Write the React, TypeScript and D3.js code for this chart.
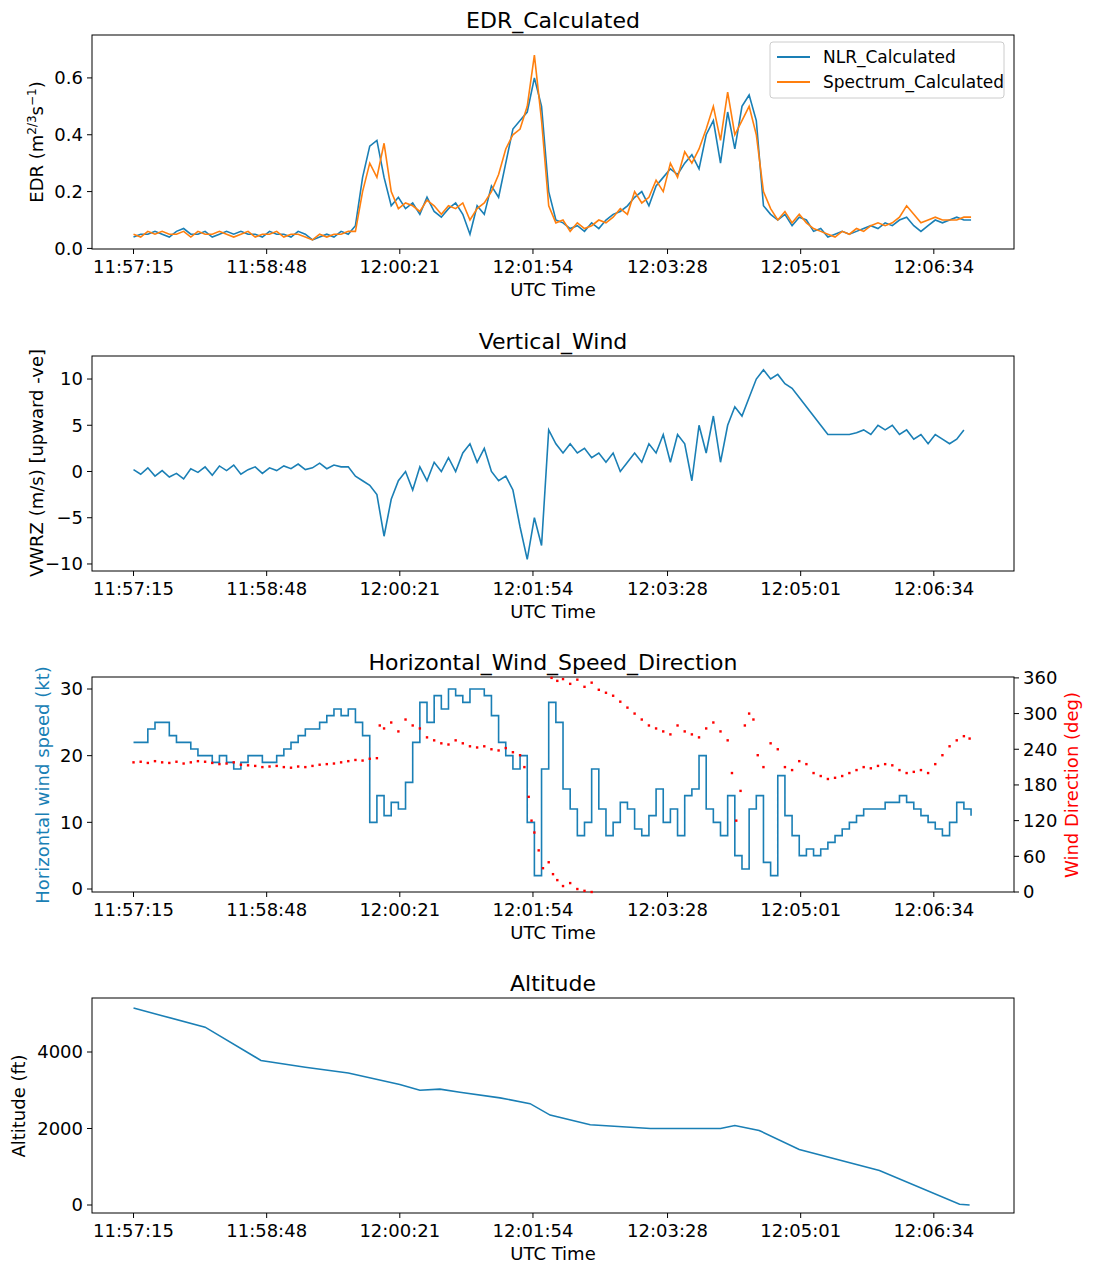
import * as d3 from "d3";

const STEP = 5; // seconds between samples, counted from 11:57:15
const TICK_SECONDS = [0, 93, 186, 279, 373, 466, 559];
const TICK_LABELS = ["11:57:15", "11:58:48", "12:00:21", "12:01:54", "12:03:28", "12:05:01", "12:06:34"];

const edrNlr = [0.04,0.05,0.05,0.06,0.05,0.04,0.06,0.07,0.05,0.05,0.06,0.04,0.05,0.06,0.05,0.06,0.05,0.05,0.04,0.06,0.05,0.05,0.04,0.06,0.05,0.03,0.04,0.05,0.04,0.06,0.05,
  0.08,0.25,0.36,0.38,0.25,0.15,0.18,0.14,0.16,0.12,0.18,0.13,0.11,0.14,0.16,0.12,0.05,0.15,0.12,0.22,0.18,0.3,0.42,0.45,0.48,0.6,0.5,0.2,0.1,0.09,0.07,0.08,0.06,0.09,0.07,0.1,0.12,0.13,0.15,0.18,0.2,0.15,0.22,0.25,0.28,0.26,0.3,0.33,0.28,0.4,0.45,0.3,0.48,0.35,0.5,0.54,0.45,0.15,0.12,0.1,0.12,0.08,0.11,0.1,0.06,0.07,0.04,0.05,0.06,0.05,0.06,0.07,0.08,0.07,0.09,0.08,0.1,0.11,0.08,0.06,0.08,0.1,0.09,0.1,0.11,0.1,0.1];
const edrSpec = [0.05,0.04,0.06,0.05,0.06,0.05,0.05,0.06,0.04,0.06,0.05,0.05,0.06,0.05,0.04,0.05,0.06,0.04,0.05,0.05,0.06,0.04,0.05,0.05,0.04,0.03,0.05,0.04,0.05,0.05,0.06,
  0.06,0.2,0.3,0.25,0.37,0.2,0.14,0.16,0.15,0.13,0.17,0.15,0.12,0.15,0.14,0.16,0.1,0.14,0.16,0.2,0.26,0.35,0.4,0.42,0.5,0.68,0.45,0.15,0.09,0.1,0.06,0.09,0.07,0.08,0.1,0.09,0.11,0.14,0.12,0.2,0.16,0.18,0.24,0.2,0.3,0.25,0.34,0.3,0.35,0.42,0.5,0.38,0.55,0.4,0.45,0.5,0.4,0.2,0.14,0.1,0.13,0.09,0.12,0.09,0.07,0.06,0.05,0.04,0.06,0.05,0.07,0.06,0.08,0.09,0.08,0.09,0.11,0.15,0.12,0.09,0.1,0.11,0.1,0.1,0.1,0.11,0.11];

const vwrz = [0.2,-0.3,0.4,-0.5,0.1,-0.6,-0.2,-0.8,0.3,-0.1,0.5,-0.4,0.6,0.1,0.7,-0.3,0.2,0.5,-0.2,0.4,0.1,0.6,0.3,0.8,0.2,0.4,0.9,0.3,0.7,0.5,
  0.5,-0.5,-1,-1.5,-2.5,-7,-3,-1,0,-2,0.5,-1,1,0,1.5,0,2,3,1,2.5,0,-1,-0.5,-2,-6,-9.5,-5,-8,4.5,3,2,3,2,2.5,1.5,2,1,2,0,1,2,1,3,2,4,1,4,3,-1,5,2,6,1,5,7,6,8,10,11,10,10.5,9.5,9,8,7,6,5,4,4,4,4,4.2,4.5,4,5,4.5,5,4,4.5,3.5,4,3,4,3.5,3,3.5,4.5];

const hSpeed = [22,22,24,25,25,23,22,22,21,20,20,19,20,19,18,19,20,20,19,19,20,21,22,23,24,24,25,26,27,26,
  27,25,23,10,14,11,13,12,16,22,28,25,29,27,30,29,28,30,30,29,26,22,20,18,20,10,2,18,28,25,15,12,8,10,18,12,8,10,13,12,9,8,11,15,10,12,8,14,15,20,12,10,8,14,5,3,12,14,4,2,17,11,
  8,5,6,5,6,7,8,9,10,11,12,12,12,13,13,14,13,12,11,10,9,8,10,13,12,11];

const dirT = [0,5,10,15,20,25,30,35,40,45,50,55,60,65,70,75,80,85,90,95,100,105,110,115,120,125,130,135,140,145,150,155,160,165,170,
  172,175,180,185,190,195,200,205,210,215,220,225,230,235,240,245,250,255,260,265,270,273,276,278,280,283,286,290,293,296,300,305,310,315,320,
  292,296,300,305,310,315,320,325,330,335,340,345,350,355,360,365,370,375,380,385,390,395,400,405,410,415,418,421,424,427,430,433,436,440,445,450,455,460,465,470,475,480,485,490,495,500,505,510,515,520,525,530,535,540,545,550,555,560,565,570,575,580,584];
const dirV = [218,219,217,220,218,217,219,216,218,220,219,217,215,216,218,214,213,212,210,211,212,210,209,211,210,212,214,215,216,218,220,222,221,224,225,
  280,275,285,270,290,280,275,260,255,250,248,255,250,245,243,245,240,238,242,235,230,210,160,120,100,70,40,50,30,20,10,15,5,2,0,
  360,355,358,350,357,345,352,340,335,330,320,310,300,290,280,275,270,265,280,270,265,260,275,285,270,255,200,120,170,280,300,290,230,210,250,240,210,205,220,215,200,195,190,192,195,200,205,210,208,212,215,213,205,200,202,205,200,215,230,245,255,262,258];

const altT = [0,20,50,89,120,150,186,200,214,228,256,277,291,319,361,410,420,437,465,521,577,584];
const altV = [5150,4950,4650,3780,3600,3450,3150,3000,3030,2950,2800,2650,2350,2100,2000,2000,2080,1950,1450,900,20,0];

const BLUE = "#1a7fb5";
const ORANGE = "#ff7f0e";
const FONT = "DejaVu Sans, sans-serif";
const x = d3.scaleLinear().domain([-29, 615]).range([92, 1014]);

const idx = (arr: number[]) => arr.map((v, i) => [i * STEP, v] as [number, number]);

function Frame({ top, bottom, title, y, yTicks, yFmt }: any) {
  return (
    <g>
      <rect x={92} y={top} width={922} height={bottom - top} fill="none" stroke="#000" strokeWidth={1} />
      <text x={553} y={top - 7} textAnchor="middle" fontSize={22}>{title}</text>
      {TICK_SECONDS.map((t, i) => (
        <g key={t} transform={`translate(${x(t)},${bottom})`}>
          <line y2={5} stroke="#000" />
          <text y={24} textAnchor="middle" fontSize={18}>{TICK_LABELS[i]}</text>
        </g>
      ))}
      <text x={553} y={bottom + 47} textAnchor="middle" fontSize={18}>UTC Time</text>
      {yTicks.map((v: number) => (
        <g key={v} transform={`translate(92,${y(v)})`}>
          <line x2={-5} stroke="#000" />
          <text x={-9} dy="0.35em" textAnchor="end" fontSize={18}>{yFmt(v)}</text>
        </g>
      ))}
    </g>
  );
}

export default function App() {
  const y1 = d3.scaleLinear().domain([-0.002, 0.751]).range([249, 35]);
  const y2 = d3.scaleLinear().domain([-10.76, 12.49]).range([571, 356]);
  const y3 = d3.scaleLinear().domain([-0.45, 31.8]).range([892, 677]);
  const y3r = d3.scaleLinear().domain([0, 361.5]).range([892, 677]);
  const y4 = d3.scaleLinear().domain([-209, 5412]).range([1213, 998]);

  const line = (ys: any) => d3.line<[number, number]>().x((d) => x(d[0])).y((d) => ys(d[1]));
  const step = d3.line<[number, number]>().x((d) => x(d[0])).y((d) => y3(d[1])).curve(d3.curveStepAfter);

  return (
    <svg width={1098} height={1272} style={{ display: "block", position: "absolute", left: 0, top: 0 }} fontFamily={FONT}>
      <rect width={1098} height={1272} fill="#fff" />
      {/* EDR */}
      <Frame top={35} bottom={249} title="EDR_Calculated" y={y1} yTicks={[0, 0.2, 0.4, 0.6]} yFmt={(v: number) => v.toFixed(1)} />
      <path d={line(y1)(idx(edrNlr)) || ""} fill="none" stroke={BLUE} strokeWidth={1.6} />
      <path d={line(y1)(idx(edrSpec)) || ""} fill="none" stroke={ORANGE} strokeWidth={1.6} />
      <g>
        <rect x={770} y={42} width={234} height={56} rx={3} fill="#fff" stroke="#ccc" />
        <line x1={777} x2={810} y1={57} y2={57} stroke={BLUE} strokeWidth={2} />
        <text x={823} y={63} fontSize={17}>NLR_Calculated</text>
        <line x1={777} x2={810} y1={82} y2={82} stroke={ORANGE} strokeWidth={2} />
        <text x={823} y={88} fontSize={17}>Spectrum_Calculated</text>
      </g>
      <text transform="translate(43,142) rotate(-90)" textAnchor="middle" fontSize={18}>
        EDR (m<tspan fontSize={12} dy={-7}>2/3</tspan><tspan dy={7}>s</tspan><tspan fontSize={12} dy={-7}>−1</tspan><tspan dy={7}>)</tspan>
      </text>

      {/* Vertical wind */}
      <Frame top={356} bottom={571} title="Vertical_Wind" y={y2} yTicks={[-10, -5, 0, 5, 10]} yFmt={(v: number) => (v < 0 ? "−" + -v : String(v))} />
      <path d={line(y2)(idx(vwrz)) || ""} fill="none" stroke={BLUE} strokeWidth={1.6} />
      <text transform="translate(43,463) rotate(-90)" textAnchor="middle" fontSize={18}>VWRZ (m/s) [upward -ve]</text>

      {/* Horizontal wind */}
      <Frame top={677} bottom={892} title="Horizontal_Wind_Speed_Direction" y={y3} yTicks={[0, 10, 20, 30]} yFmt={String} />
      <path d={step(idx(hSpeed)) || ""} fill="none" stroke={BLUE} strokeWidth={1.6} />
      {dirT.map((t, i) => (
        <rect key={i} x={x(t) - 1.2} y={y3r(dirV[i]) - 1.2} width={2.4} height={2.4} fill="red" />
      ))}
      {[0, 60, 120, 180, 240, 300, 360].map((v) => (
        <g key={v} transform={`translate(1014,${y3r(v)})`}>
          <line x2={5} stroke="#000" />
          <text x={9} dy="0.35em" fontSize={18}>{v}</text>
        </g>
      ))}
      <text transform="translate(49,785) rotate(-90)" textAnchor="middle" fontSize={18} fill={BLUE}>Horizontal wind speed (kt)</text>
      <text transform="translate(1078,785) rotate(-90)" textAnchor="middle" fontSize={18} fill="red">Wind Direction (deg)</text>

      {/* Altitude */}
      <Frame top={998} bottom={1213} title="Altitude" y={y4} yTicks={[0, 2000, 4000]} yFmt={String} />
      <path d={line(y4)(altT.map((t, i) => [t, altV[i]] as [number, number])) || ""} fill="none" stroke={BLUE} strokeWidth={1.6} />
      <text transform="translate(25,1106) rotate(-90)" textAnchor="middle" fontSize={18}>Altitude (ft)</text>
    </svg>
  );
}
